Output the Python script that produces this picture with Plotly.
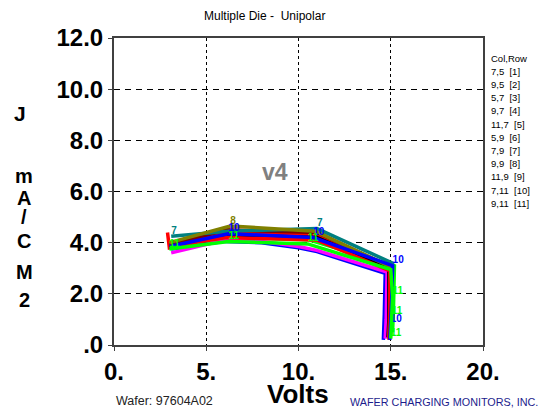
import plotly.graph_objects as go

# ---------------- data ----------------
die_coords = ["7,5", "9,5", "5,7", "9,7", "11,7", "5,9", "7,9", "9,9", "11,9", "7,11", "9,11"]

volts_1 = [2.9, 3.0, 6.0, 11.0, 15.0, 14.95, 14.9]
j_1 = [4.4, 3.8, 4.4, 4.3, 2.95, 1.2, 0.3]
volts_2 = [3.1, 6.0, 8.0, 10.0, 11.0, 14.7, 14.65, 14.6]
j_2 = [3.75, 4.05, 4.0, 3.8, 3.65, 2.8, 1.2, 0.2]
volts_3 = [3.0, 6.2, 10.6, 15.2, 15.15, 15.1]
j_3 = [3.95, 4.2, 4.1, 3.1, 1.5, 0.5]
volts_4 = [3.1, 6.0, 8.0, 10.0, 11.0, 14.8, 14.75, 14.7]
j_4 = [3.6, 4.1, 4.05, 3.85, 3.7, 2.85, 1.0, 0.25]
volts_5 = [3.0, 6.1, 11.0, 15.0, 14.95, 14.9]
j_5 = [3.9, 4.5, 4.4, 3.05, 1.5, 0.4]
volts_6 = [3.0, 6.0, 11.0, 14.9, 14.9, 14.85]
j_6 = [3.8, 4.3, 4.2, 3.0, 1.0, 0.3]
volts_7 = [3.1, 6.2, 11.0, 15.1, 15.05, 15.0]
j_7 = [4.25, 4.45, 4.55, 3.2, 1.5, 0.4]
volts_8 = [3.0, 6.3, 10.9, 15.0, 14.95, 14.9]
j_8 = [4.0, 4.65, 4.45, 3.05, 1.0, 0.3]
volts_9 = [3.0, 6.1, 11.0, 14.95, 14.95, 14.9]
j_9 = [3.85, 4.2, 4.1, 2.9, 1.4, 0.2]
volts_10 = [3.0, 6.2, 10.8, 15.1, 15.05, 15.0, 14.95]
j_10 = [3.85, 4.35, 4.2, 3.1, 1.8, 0.8, 0.2]
volts_11 = [3.0, 6.2, 10.5, 15.0, 15.1, 15.05, 15.0, 15.0]
j_11 = [3.75, 4.05, 3.95, 2.95, 1.9, 1.1, 0.6, 0.25]

x_tickvals = [0, 5, 10, 15, 20]
x_ticktext = ["0.", "5.", "10.", "15.", "20."]
y_tickvals = [0, 2, 4, 6, 8, 10, 12]
y_ticktext = [".0", "2.0", "4.0", "6.0", "8.0", "10.0", "12.0"]

volts = [volts_1, volts_2, volts_3, volts_4, volts_5, volts_6,
         volts_7, volts_8, volts_9, volts_10, volts_11]
currents = [j_1, j_2, j_3, j_4, j_5, j_6, j_7, j_8, j_9, j_10, j_11]

# ---------------- style ----------------
colors = ["#FF0000", "#0000FF", "#00FF00", "#FF00FF", "#800000", "#000000",
          "#008080", "#808000", "#FF0000", "#0000FF", "#00FF00"]
# which points show their series-number tag
label_points = {7: [0, 2], 8: [1], 10: [1, 2, 3, 5], 11: [0, 1, 2, 4, 5, 7]}

W, H = 542, 410
L, R, T, B = 114, 483, 38, 345


def px(x):
    return (x - L) / (R - L)


def py(y):
    return (B - y) / (B - T)


fig = go.Figure()
for i, (vx, jy) in enumerate(zip(volts, currents), start=1):
    idx = label_points.get(i, [])
    txt = [str(i) if k in idx else "" for k in range(len(vx))]
    fig.add_trace(go.Scatter(
        x=vx, y=jy, mode="lines+text", text=txt,
        textposition="top right",
        textfont=dict(family="Liberation Sans", size=10, color=colors[i - 1], weight="bold"),
        line=dict(color=colors[i - 1], width=3.5),
        showlegend=False, hoverinfo="skip", cliponaxis=False))

axis_common = dict(
    showline=True, linecolor="#404040", linewidth=2, mirror=True,
    ticks="outside", ticklen=4, tickcolor="#404040", tickwidth=1,
    gridcolor="#000000", gridwidth=1, zeroline=False,
    tickfont=dict(family="Liberation Sans", size=24, color="#000000", weight="bold"),
)

fig.update_xaxes(range=[0, 20], tickvals=x_tickvals, ticktext=x_ticktext,
                 griddash="3px,3px", **axis_common)
fig.update_yaxes(range=[0, 12], tickvals=y_tickvals, ticktext=y_ticktext,
                 griddash="6px,5px", **axis_common)

ann = []


def add_text(text, x, y, size, color="#000000", bold=False, xanchor="center", family="Liberation Sans"):
    ann.append(dict(text=text, x=px(x), y=py(y), xref="paper", yref="paper",
                    showarrow=False, xanchor=xanchor, yanchor="middle",
                    font=dict(family=family, size=size, color=color,
                              weight="bold" if bold else "normal")))


add_text("Multiple Die -  Unipolar", 264, 16, 12)
add_text("v4", 275, 172, 23, color="#808080", bold=True)
add_text("Volts", 298, 394, 26, bold=True)
add_text("Wafer: 97604A02", 114, 401, 12.5, color="#222222", xanchor="left")
add_text("WAFER CHARGING MONITORS, INC.", 348, 402, 10.8, color="#1C1C8C", xanchor="left")

# stacked y-axis title
add_text("J", 20, 113, 21, bold=True)
for ch, yy in zip(["m", "A", "/", "C", "M", "2"], [176, 198, 217, 241, 272, 300]):
    add_text(ch, 24, yy, 20, bold=True)

# die legend
add_text("Col,Row", 489, 58, 9.5, xanchor="left")
for k, d in enumerate(die_coords):
    add_text(f"{d}  [{k + 1}]", 489, 58 + 13.2 * (k + 1), 9.5, xanchor="left")

fig.update_layout(
    width=W, height=H,
    margin=dict(l=L, r=W - R, t=T, b=H - B),
    plot_bgcolor="#FFFFFF", paper_bgcolor="#FFFFFF",
    annotations=ann,
)

fig.write_html("out.html", config={"displayModeBar": False},
               post_script="document.body.style.margin='0';document.body.style.overflow='hidden';")
